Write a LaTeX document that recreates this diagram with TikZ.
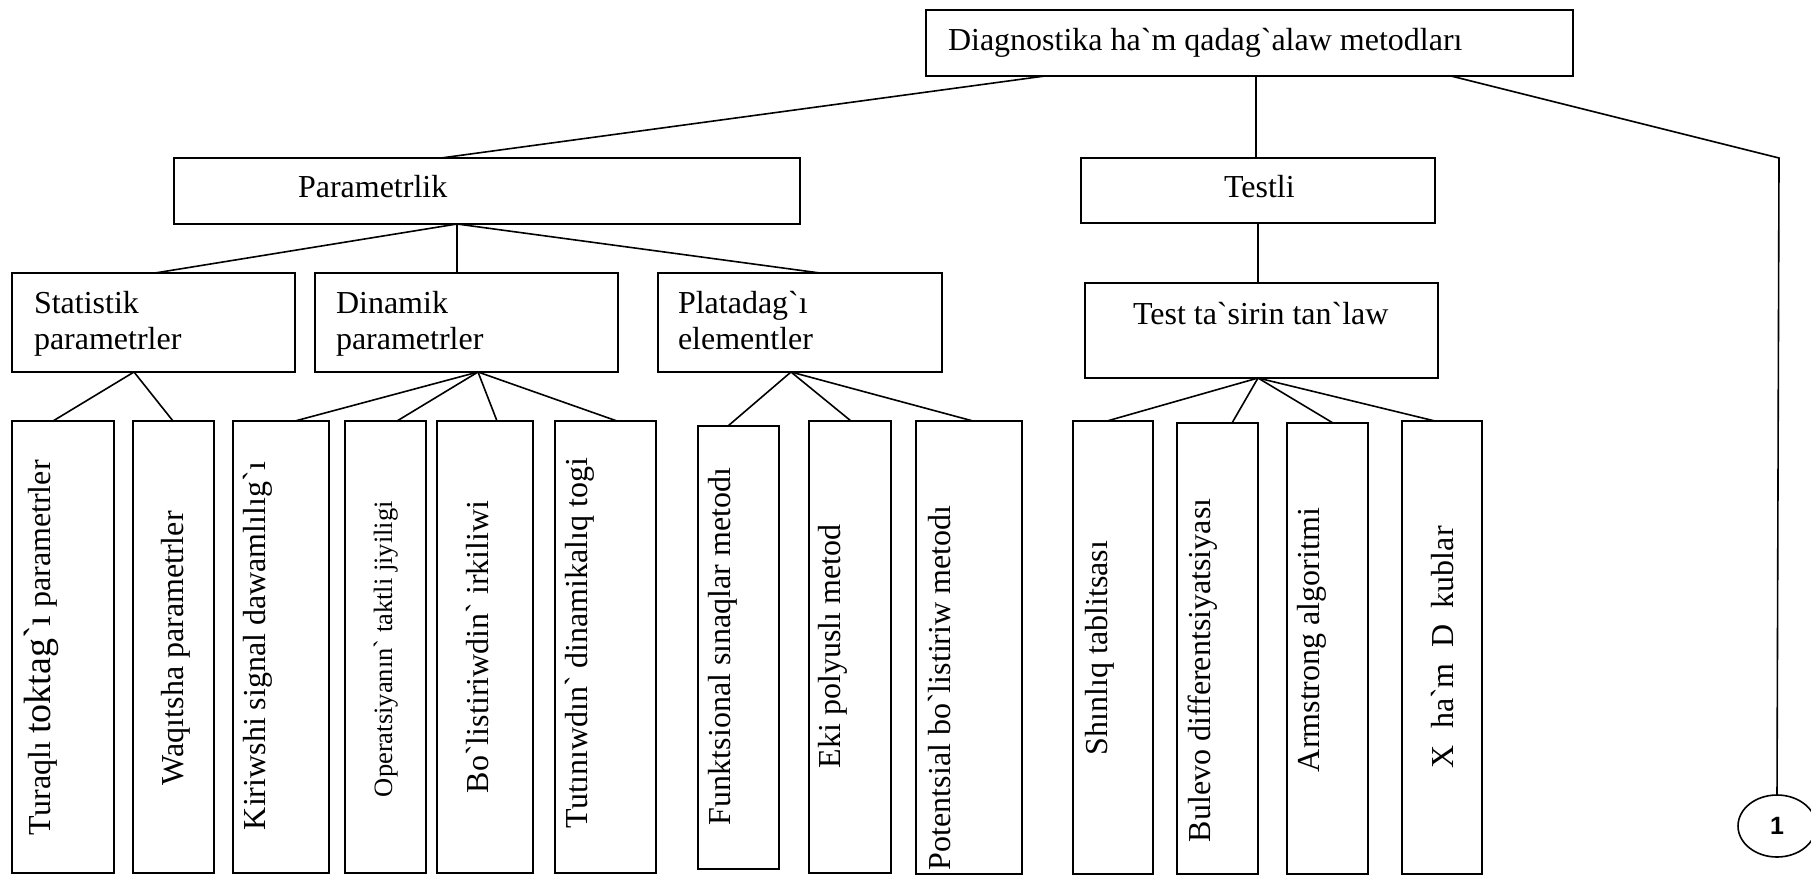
\documentclass[tikz,border=0pt]{standalone}
\usepackage{fontspec}
\newfontfamily\tnr{Liberation Serif}
\newfontfamily\lsans{Liberation Sans}
\usetikzlibrary{calc,shapes.geometric}
\tikzset{
  bx/.style={draw, line width=1.6pt, inner sep=0pt, outer sep=0pt, anchor=north west},
  txt/.style={font=\tnr\fontsize{32}{36}\selectfont, inner sep=0pt, outer sep=0pt, anchor=base west},
  vtxt/.style={txt, rotate=90},
  ln/.style={line width=1.6pt},
}
\newcommand\mkbox[5]{\node[bx, minimum width={(#4-#2)*1pt}, minimum height={(#5-#3)*1pt}] (#1) at (#2,#3) {};}
\newcommand\link[4]{\draw[ln] ($(#1.south west)+(#2,0)$) -- ($(#3.north west)+(#4,0)$);}
\begin{document}
\begin{tikzpicture}[x=1pt,y=-1pt]
\useasboundingbox (0,0) rectangle (1811,875);
\clip (0,0) rectangle (1811,875);
% boxes
\mkbox{top}{926}{10}{1573}{76}
\mkbox{par}{174}{158}{800}{224}
\mkbox{tes}{1081}{158}{1435}{223}
\mkbox{sta}{12}{273}{295}{372}
\mkbox{din}{315}{273}{618}{372}
\mkbox{pla}{658}{273}{942}{372}
\mkbox{tst}{1085}{283}{1438}{378}
\mkbox{b1}{12}{421}{114}{873}
\mkbox{b2}{133}{421}{214}{873}
\mkbox{b3}{233}{421}{329}{873}
\mkbox{b4}{345}{421}{426}{873}
\mkbox{b5}{437}{421}{533}{873}
\mkbox{b6}{555}{421}{656}{873}
\mkbox{b7}{698}{426}{779}{869}
\mkbox{b8}{809}{421}{891}{873}
\mkbox{b9}{916}{421}{1022}{874}
\mkbox{b10}{1073}{421}{1153}{874}
\mkbox{b11}{1177}{423}{1258}{874}
\mkbox{b12}{1287}{423}{1368}{874}
\mkbox{b13}{1402}{421}{1482}{874}
% texts
\node[txt] (ttop) at (948,51) {Diagnostika ha`m qadag`alaw metodları};
\node[txt] (tpar) at (298,197) {Parametrlik};
\node[txt] (ttes) at (1224,197) {Testli};
\node[txt] (tsta1) at (34,313) {Statistik};
\node[txt] (tsta2) at (34,349) {parametrler};
\node[txt] (tdin1) at (336,313) {Dinamik};
\node[txt] (tdin2) at (336,349) {parametrler};
\node[txt] (tpla1) at (678,313) {Platadag`ı};
\node[txt] (tpla2) at (678,349) {elementler};
\node[txt] (ttst) at (1133,324) {Test ta`sirin tan`law};
\node[vtxt] (t1) at (50,835) {Turaqlı {\fontsize{38}{40}\selectfont toktag`ı} parametrler};
\node[vtxt] (t2) at (183,785) {Waqıtsha parametrler};
\node[vtxt] (t3) at (265,830) {Kiriwshi signal dawamlılıg`ı};
\node[vtxt, font=\tnr\fontsize{26.5}{30}\selectfont] (t4) at (392,797) {Operatsiyanın` taktli jiyiligi};
\node[vtxt] (t5) at (488,793) {Bo`listiriwdin` irkiliwi};
\node[vtxt] (t6) at (587,828) {Tutınıwdın` dinamikalıq togi};
\node[vtxt] (t7) at (730,825) {Funktsional sınaqlar metodı};
\node[vtxt] (t8) at (840,768) {Eki polyuslı metod};
\node[vtxt] (t9) at (950,870) {Potentsial bo`listiriw metodı};
\node[vtxt] (t10) at (1107,755) {Shınlıq tablitsası};
\node[vtxt] (t11) at (1210,842) {Bulevo differentsiyatsiyası};
\node[vtxt] (t12) at (1319,772) {Armstrong algoritmi};
\node[vtxt] (t13) at (1453,768) {X\ \ ha`m\ \ D\ \ kublar};
% circle connector
\coordinate (corner) at (1779,158);
\node[ellipse, draw, line width=1.6pt, minimum width=78pt, minimum height=62pt, inner sep=0pt,
      font=\lsans\bfseries\fontsize{25}{27}\selectfont] (one) at (1777,826) {\raisebox{-6pt}{1}};
% connectors
\link{top}{119}{par}{267}
\link{top}{330}{tes}{175}
\draw[ln] ($(top.south west)+(525,0)$) -- (corner) -- (one.north);
\link{par}{283}{sta}{143}
\link{par}{283}{din}{142}
\link{par}{283}{pla}{162}
\link{tes}{177}{tst}{173}
\link{sta}{122}{b1}{41}
\link{sta}{122}{b2}{40}
\link{din}{163}{b3}{62}
\link{din}{163}{b4}{52}
\link{din}{163}{b5}{60}
\link{din}{163}{b6}{62}
\link{pla}{133}{b7}{30}
\link{pla}{133}{b8}{42}
\link{pla}{133}{b9}{57}
\link{tst}{173}{b10}{34}
\link{tst}{173}{b11}{55}
\link{tst}{173}{b12}{46}
\link{tst}{173}{b13}{33}
\end{tikzpicture}
\end{document}
